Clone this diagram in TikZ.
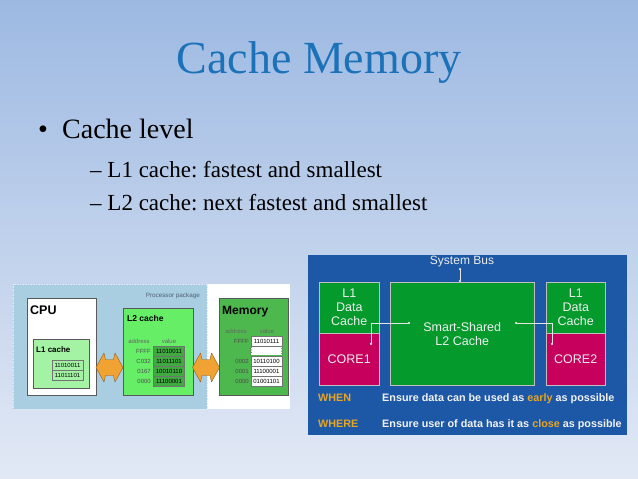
\documentclass[tikz,border=0pt]{standalone}
\usepackage{fontspec}
\setmainfont{Liberation Serif}
\newfontfamily\arialf{Liberation Sans}
\usetikzlibrary{arrows.meta,decorations.pathmorphing}

\definecolor{bgtop}{HTML}{9DB9E2}
\definecolor{bgbot}{HTML}{E2E9F5}
\definecolor{titleblue}{HTML}{1B72B8}
\definecolor{pkgblue}{HTML}{A9CEE2}
\definecolor{pkgtext}{HTML}{4F6070}
\definecolor{litegreen}{HTML}{A4F2A4}
\definecolor{l2green}{HTML}{66EE66}
\definecolor{cellgreen}{HTML}{3FAA3F}
\definecolor{memgreen}{HTML}{4DB84D}
\definecolor{arroworange}{HTML}{F0A232}
\definecolor{sysblue}{HTML}{1D58A7}
\definecolor{chipgreen}{HTML}{049A2C}
\definecolor{coremag}{HTML}{C6005C}
\definecolor{gold}{HTML}{E6A523}

\tikzstyle{title} = [font=\fontsize{46}{50}\selectfont, text=titleblue, anchor=base]
\tikzstyle{lvl} = [font=\fontsize{28}{32}\selectfont, anchor=base west, inner sep=0pt]
\tikzstyle{sublvl} = [font=\fontsize{23}{27}\selectfont, anchor=base west, inner sep=0pt]
\tikzstyle{block} = [draw=black!65, line width=0.6pt, anchor=north west, inner sep=0pt]
\tikzstyle{boxname} = [font=\arialf\bfseries, anchor=base west, inner sep=0pt]
\tikzstyle{tiny} = [font=\arialf\fontsize{6}{7}\selectfont, inner sep=0pt]
\tikzstyle{cell} = [tiny, draw=black!55, line width=0.3pt, minimum width=31, minimum height=10]
\tikzstyle{xfer} = [fill=arroworange, draw=arroworange!60!black, line width=0.4pt, line join=round]
\tikzstyle{chip} = [draw=white!75!black, line width=0.5pt, anchor=north west, inner sep=0pt,
  text=white!94!black, font=\arialf\fontsize{12.5}{14}\selectfont, align=center]
\tikzstyle{bus} = [white!90!black, line width=0.5pt, {Circle[length=2.2pt]}-{Circle[length=2.2pt]}]
\tikzstyle{rule} = [font=\arialf\bfseries\fontsize{10.8}{12}\selectfont, anchor=base west, inner sep=0pt]

\newcommand{\xferarrow}[1]{%
  \draw[xfer] (#1) ++(-13.5,0) -- ++(8,-14.5) -- ++(1.5,6.5) -- ++(8,0) -- ++(1.5,-6.5)
    -- ++(8,14.5) -- ++(-8,14.5) -- ++(-1.5,-6.5) -- ++(-8,0) -- ++(-1.5,6.5) -- cycle;}

\begin{document}
\frenchspacing
\begin{tikzpicture}[x=1pt, y=-1pt]
\useasboundingbox (0,0) rectangle (638,479);
\shade[top color=bgtop, bottom color=bgbot] (0,0) rectangle (638,479);

\node[title] (head) at (319,73) {Cache Memory};
\node[lvl] (dot) at (38,138) {\textbullet};
\node[lvl] (lvl) at (62,138) {Cache level};
\node[sublvl] (lone) at (90,177) {-- L1 cache: fastest and smallest};
\node[sublvl] (ltwo) at (90,210) {-- L2 cache: next fastest and smallest};

% processor package picture
\fill[white] (207,284) rectangle (290,409);
\fill[pkgblue] (13,284) rectangle (207,409);
\draw[white!60!pkgblue, densely dotted, line width=0.6pt] (13,284) rectangle (207,409);
\node[tiny, font=\arialf\fontsize{6.3}{7}\selectfont, text=pkgtext, anchor=base east] (pkg) at (200,297) {Processor package};

\node[block, fill=white, minimum width=69, minimum height=97] (cpu) at (27,298) {};
\node[boxname, font=\arialf\bfseries\fontsize{12.5}{14}\selectfont] (cpuname) at (30,314) {CPU};
\node[block, fill=litegreen, minimum width=56, minimum height=49] (lonebox) at (33,339) {};
\node[boxname, font=\arialf\bfseries\fontsize{8}{9}\selectfont] (lonename) at (36,352) {L1 cache};
\node[cell, fill=litegreen] (lonev1) at (67.5,365.5) {11010011};
\node[cell, fill=litegreen] (lonev2) at (67.5,375.5) {11011101};

\coordinate (xfera) at (109.5,367.5);
\xferarrow{xfera}

\node[block, fill=l2green, minimum width=70, minimum height=87] (ltwobox) at (123,308) {};
\node[boxname, font=\arialf\bfseries\fontsize{8.5}{10}\selectfont] (ltwoname) at (127,321) {L2 cache};
\node[tiny, text=black!60] (ltwoaddr) at (139,341) {address};
\node[tiny, text=black!60] (ltwoval) at (169,341) {value};
\foreach \adr/\val [count=\i] in {FFFF/11010011, C032/11011101, 0167/10010110, 0000/11100001} {
  \node[cell, fill=cellgreen] (ltwov\i) at (169,341+10*\i) {\val};
  \node[tiny, text=black!70, anchor=east] (ltwoa\i) at (151,341+10*\i) {\adr};
}

\coordinate (xferb) at (206,367.5);
\xferarrow{xferb}

\node[block, fill=memgreen, minimum width=69, minimum height=97] (mem) at (219,298) {};
\node[boxname, font=\arialf\bfseries\fontsize{12}{14}\selectfont] (memname) at (222,314) {Memory};
\node[tiny, text=black!60] (memaddr) at (236,331) {address};
\node[tiny, text=black!60] (memval) at (267,331) {value};
\node[cell, fill=white] (memv1) at (266.5,341) {11010111};
\node[tiny, text=black!70, anchor=east] (mema1) at (249,341) {FFFF};
\node[fill=white, minimum width=31, minimum height=8, inner sep=0pt] (memgap) at (266.5,351) {};
\draw[black!55, line width=0.3pt, decorate, decoration={zigzag, amplitude=1pt, segment length=2.5pt}]
  (memgap.north west) -- (memgap.south west);
\draw[black!55, line width=0.3pt, decorate, decoration={zigzag, amplitude=1pt, segment length=2.5pt}]
  (memgap.north east) -- (memgap.south east);
\foreach \adr/\val [count=\i] in {0002/10110100, 0001/11100001, 0000/01001101} {
  \node[cell, fill=white] (memv\i x) at (266.5,351+10*\i) {\val};
  \node[tiny, text=black!70, anchor=east] (mema\i x) at (249,351+10*\i) {\adr};
}

% multi-core picture
\fill[sysblue] (308,255) rectangle (627,435);
\node[font=\arialf\fontsize{12}{14}\selectfont, text=white!92!black, inner sep=0pt] (sysbus) at (462,262) {System Bus};

\node[chip, fill=chipgreen, minimum width=60, minimum height=51] (loneL) at (319,282) {L1\\Data\\Cache};
\node[chip, fill=coremag, minimum width=60, minimum height=52] (coreone) at (319,333) {CORE1};
\node[chip, fill=chipgreen, minimum width=144, minimum height=103] (shared) at (390,282) {Smart-Shared\\L2 Cache};
\node[chip, fill=chipgreen, minimum width=59, minimum height=51] (loneR) at (546,282) {L1\\Data\\Cache};
\node[chip, fill=coremag, minimum width=59, minimum height=52] (coretwo) at (546,333) {CORE2};

\coordinate (tapone) at (371,345);
\coordinate (tapsharedL) at (410,323);
\coordinate (taptwo) at (552,345);
\coordinate (tapsharedR) at (515,323);
\coordinate (bustop) at (460,268);
\draw[bus] (tapone) |- (tapsharedL);
\draw[bus] (taptwo) |- (tapsharedR);
\draw[bus] (bustop) -- (bustop |- shared.north);

\node[rule, text=gold] (when) at (318,401) {WHEN};
\node[rule, text=white!95!black] (whentext) at (382,401) {Ensure data can be used as \textcolor{gold}{early} as possible};
\node[rule, text=gold] (where) at (318,427) {WHERE};
\node[rule, text=white!95!black] (wheretext) at (382,427) {Ensure user of data has it as \textcolor{gold}{close} as possible};
\end{tikzpicture}
\end{document}
